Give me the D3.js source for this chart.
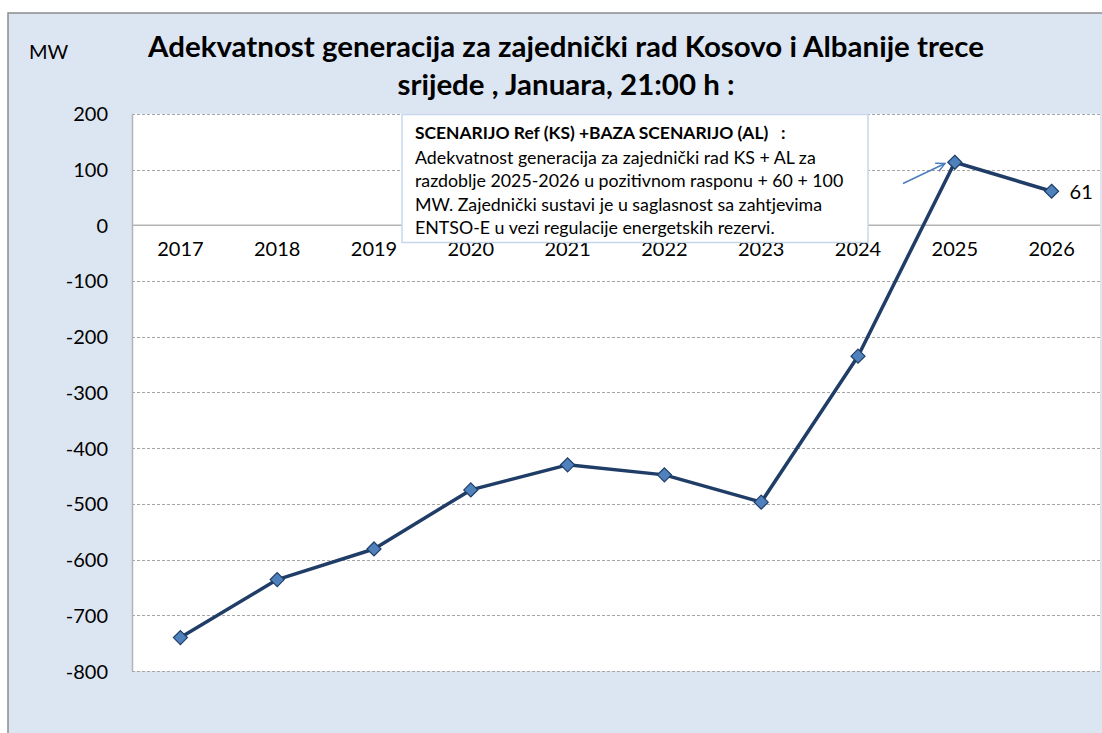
<!DOCTYPE html>
<html><head><meta charset="utf-8">
<script src="https://cdn.jsdelivr.net/npm/d3@7"></script>
<style>body{margin:0;background:#fff}svg{display:block}text{font-family:Lato,"Open Sans",sans-serif;white-space:pre}</style>
</head><body>
<svg id="c" width="1102" height="733"></svg>
<script>
const years = ["2017","2018","2019","2020","2021","2022","2023","2024","2025","2026"];
const values = [-740,-636,-581,-475,-430,-448,-497,-235,113,61];
const yTicks = [200,100,0,-100,-200,-300,-400,-500,-600,-700,-800];
const titleLines = ["Adekvatnost generacija za zajednički rad Kosovo i Albanije trece","srijede , Januara, 21:00 h :"];
const noteLines = ["SCENARIJO Ref (KS) +BAZA SCENARIJO (AL)   :","Adekvatnost generacija za zajednički rad KS + AL za","razdoblje 2025-2026 u pozitivnom rasponu + 60 + 100","MW. Zajednički sustavi je u saglasnost sa zahtjevima","ENTSO-E u vezi regulacije energetskih rezervi."];
const yUnit = "MW";
const lastLabel = "61";

const svg = d3.select("#c");
const L=132, R=1100, T=113.8, B=671;
svg.append("rect").attr("x",8).attr("y",13).attr("width",1200).attr("height",800)
  .attr("fill","#dce6f2").attr("stroke","#8c8c8c").attr("stroke-width",1.5);
svg.append("rect").attr("x",L).attr("y",T).attr("width",R-L).attr("height",B-T).attr("fill","#fff");

const x = d3.scaleBand().domain(years).range([L,R]);
const y = d3.scaleLinear().domain([-800,200]).range([B,T]);

const grid = svg.append("g");
yTicks.filter(d=>d!==0).forEach(t=>{
  grid.append("line").attr("x1",L).attr("x2",R).attr("y1",Math.round(y(t))+0.5).attr("y2",Math.round(y(t))+0.5)
    .attr("stroke","#a6a6a6").attr("stroke-width",1).attr("stroke-dasharray","3,2");
});
svg.append("line").attr("x1",L+0.5).attr("x2",L+0.5).attr("y1",T).attr("y2",B).attr("stroke","#b3b3b3").attr("stroke-width",1.5);
svg.append("line").attr("x1",L).attr("x2",R).attr("y1",y(0)).attr("y2",y(0)).attr("stroke","#b3b3b3").attr("stroke-width",1.5);

const yAxis = d3.axisLeft(y).tickValues(yTicks).tickSize(0).tickPadding(0).tickFormat(d=>String(d));
const yg = svg.append("g").attr("transform",`translate(${108},0)`).call(yAxis);
yg.select(".domain").remove();
yg.selectAll("text").attr("font-size",20).attr("fill","#000").attr("dy","0.35em").style("font-family","Lato");

const xAxis = d3.axisBottom(x).tickSize(0).tickPadding(0);
const xg = svg.append("g").attr("transform",`translate(0,${y(0)+24})`).call(xAxis);
xg.select(".domain").remove();
xg.selectAll("text").attr("font-size",20).attr("fill","#000").attr("dy","0.35em").style("font-family","Lato");

const bx=402, by=114.5, bw=466, bh=128;
svg.append("rect").attr("x",bx).attr("y",by).attr("width",bw).attr("height",bh).attr("fill","#fff").attr("stroke","#c6d7ec").attr("stroke-width",1.5);
const noteY=[133,157.5,180.5,204.5,228];
function fit(t, w){ const len=t.node().getComputedTextLength(); const fs=+t.attr("font-size"); t.attr("font-size", fs*w/len); }
const noteTexts = noteLines.map((s,i)=> svg.append("text").attr("x",415).attr("y",noteY[i]).attr("dy","0.35em").attr("font-size",16)
    .attr("font-weight", i===0?"bold":"normal").attr("fill","#000").text(s));
fit(noteTexts[1],401);
const nfs = +noteTexts[1].attr("font-size");
noteTexts.forEach((t,i)=>{ if(i>1) t.attr("font-size",nfs); });
noteTexts[0].attr("font-size",nfs*0.98);

const tY=[47,85];
let tfs=26;
titleLines.forEach((s,i)=>{
  const t=svg.append("text").attr("x",566).attr("y",tY[i]).attr("dy","0.35em").attr("text-anchor","middle")
    .attr("font-weight","bold").attr("font-size",tfs).attr("fill","#000").text(s);
  if(i===0){ fit(t,836); tfs=+t.attr("font-size"); }
});
svg.append("text").attr("x",29).attr("y",52).attr("dy","0.35em").attr("font-size",20).attr("fill","#000").text(yUnit);

const defs=svg.append("defs");
defs.append("marker").attr("id","ah").attr("viewBox","0 0 10 10").attr("refX",9).attr("refY",5)
  .attr("markerWidth",11).attr("markerHeight",11).attr("markerUnits","userSpaceOnUse").attr("orient","auto")
  .append("path").attr("d","M1,1 L9,5 L1,9").attr("fill","none").attr("stroke","#4a7ebb").attr("stroke-width",1.3);
svg.append("line").attr("x1",903).attr("y1",183.5).attr("x2",945).attr("y2",163.5)
  .attr("stroke","#4a7ebb").attr("stroke-width",1.5).attr("marker-end","url(#ah)");

const cx = d=>x(d)+x.bandwidth()/2;
const line = d3.line().x((d,i)=>cx(years[i])).y(d=>y(d));
svg.append("path").datum(values).attr("d",line).attr("fill","none").attr("stroke","#1f3d66").attr("stroke-width",3.5).attr("stroke-linejoin","round");
svg.selectAll(".m").data(values).enter().append("path").attr("class","m")
  .attr("transform",(d,i)=>`translate(${cx(years[i])},${y(d)})`)
  .attr("d",d3.symbol().type(d3.symbolDiamond2).size(125))
  .attr("fill","#4f81bd").attr("stroke","#1f3d66").attr("stroke-width",1.2);

svg.append("text").attr("x",cx(years[9])+18).attr("y",y(values[9])+1).attr("dy","0.35em").attr("font-size",20).attr("fill","#000").text(lastLabel);
</script>
</body></html>
